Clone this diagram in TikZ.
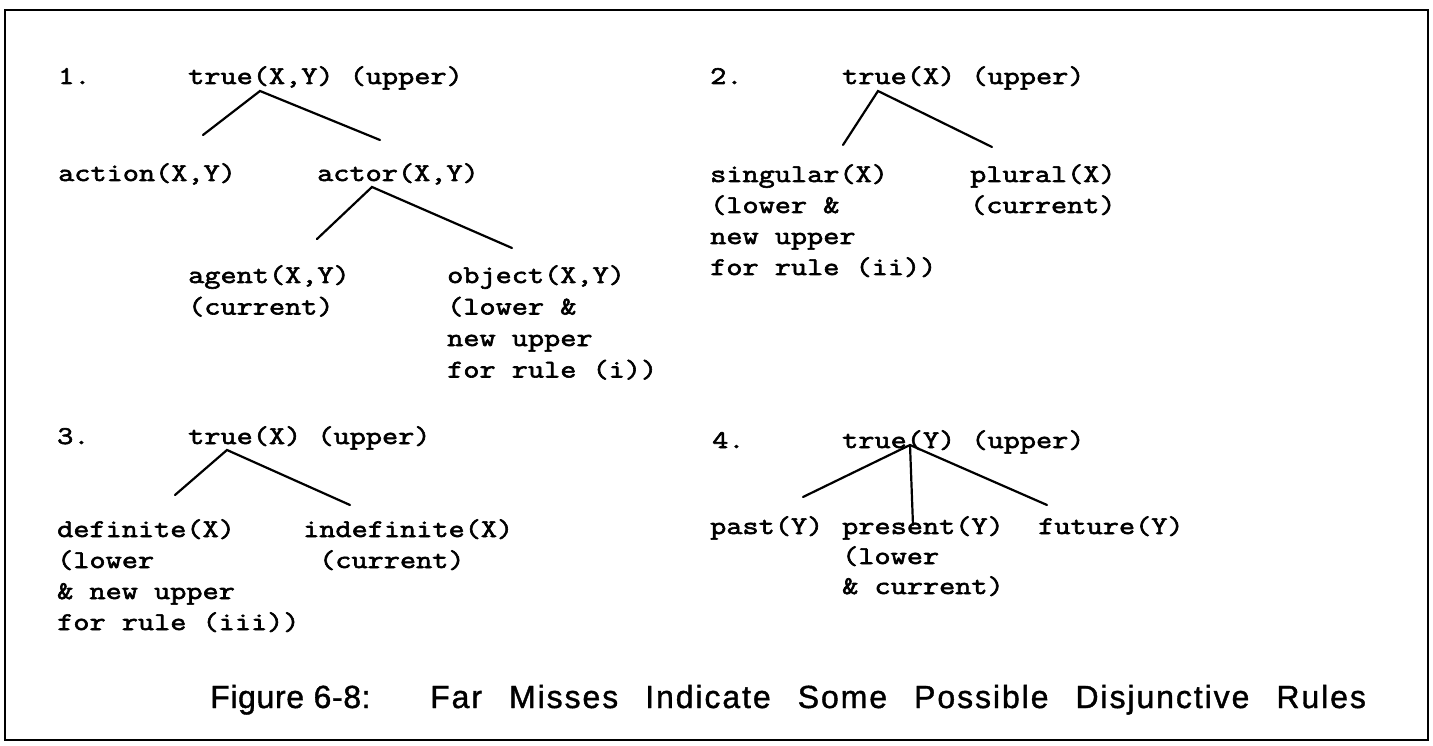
\documentclass[tikz,border=0pt]{standalone}
\usepackage{fontspec}
\newfontfamily\treefont{Latin Modern Mono}[FakeStretch=1.23,FakeBold=2.4]
\newfontfamily\figlabfont{Liberation Sans}[LetterSpace=2,FakeBold=1.2]
\newfontfamily\figtxtfont{Liberation Sans}[LetterSpace=6,WordSpace=2.5,FakeBold=1.2]
\begin{document}
\begin{tikzpicture}[x=1pt,y=-1pt,
  txt/.style={font=\treefont\fontsize{25.5}{32}\selectfont, anchor=base west, inner sep=0pt},
  edge/.style={line width=2.2pt, line cap=round},
  figlab/.style={font=\figlabfont\fontsize{32}{36}\selectfont, anchor=base west, inner sep=0pt},
  figtxt/.style={font=\figtxtfont\fontsize{32}{36}\selectfont, anchor=base west, inner sep=0pt}]
\useasboundingbox (0,0) rectangle (1433,746);
\draw[line width=2.5pt] (5,10) rectangle (1428,740);

% ---------- panel 1 ----------
\node[txt] (n1) at (58,84) {1.};
\node[txt] (t1) at (188,84) {true(X,Y) (upper)};
\node[txt] (action) at (58,181) {action(X,Y)};
\node[txt] (actor) at (317,181) {actor(X,Y)};
\node[txt] (agentA) at (188,283) {agent(X,Y)};
\node[txt] (agentB) at (188,314.5) {(current)};
\node[txt] (objA) at (447,283) {object(X,Y)};
\node[txt] (objB) at (447,314.5) {(lower \&};
\node[txt] (objC) at (447,346) {new upper};
\node[txt] (objD) at (447,377.5) {for rule (i))};
\coordinate (t1p) at (260,91);
\coordinate (actionp) at (203,135);
\coordinate (actorq) at (380,140);
\coordinate (actorp) at (372,187);
\coordinate (agentp) at (317,239);
\coordinate (objp) at (512,248);
\draw[edge] (actionp) -- (t1p) -- (actorq);
\draw[edge] (agentp) -- (actorp) -- (objp);

% ---------- panel 2 ----------
\node[txt] (n2) at (710,84) {2.};
\node[txt] (t2) at (842,84) {true(X) (upper)};
\node[txt] (singA) at (710,182) {singular(X)};
\node[txt] (singB) at (710,213) {(lower \&};
\node[txt] (singC) at (710,244) {new upper};
\node[txt] (singD) at (710,275) {for rule (ii))};
\node[txt] (plurA) at (970,182) {plural(X)};
\node[txt] (plurB) at (970,213) {(current)};
\coordinate (t2p) at (878,91);
\coordinate (singp) at (843,145);
\coordinate (plurp) at (992,147);
\draw[edge] (singp) -- (t2p) -- (plurp);

% ---------- panel 3 ----------
\node[txt] (n3) at (57,444) {3.};
\node[txt] (t3) at (188,444) {true(X) (upper)};
\node[txt] (defA) at (57,537) {definite(X)};
\node[txt] (defB) at (57,568) {(lower};
\node[txt] (defC) at (57,599) {\& new upper};
\node[txt] (defD) at (57,630) {for rule (iii))};
\node[txt] (indA) at (303,537) {indefinite(X)};
\node[txt] (indB) at (319,568) {(current)};
\coordinate (t3p) at (227,450);
\coordinate (defp) at (175,495);
\coordinate (indp) at (350,505);
\draw[edge] (defp) -- (t3p) -- (indp);

% ---------- panel 4 ----------
\node[txt] (n4) at (712,448) {4.};
\node[txt] (t4) at (842,448) {true(Y) (upper)};
\node[txt] (past) at (710,534) {past(Y)};
\node[txt] (presA) at (842,534) {present(Y)};
\node[txt] (presB) at (842,564) {(lower};
\node[txt] (presC) at (842,594) {\& current)};
\node[txt] (fut) at (1038,534) {future(Y)};
\coordinate (t4p) at (910,445);
\coordinate (pastp) at (803,497);
\coordinate (presp) at (913,525);
\coordinate (futp) at (1047,505);
\draw[edge] (pastp) -- (t4p) -- (futp);
\draw[edge] (t4p) -- (presp);

% ---------- caption ----------
\node[figlab] (figlab) at (210,708) {Figure 6-8:};
\node[figtxt] (figtxt) at (430,708) {Far Misses Indicate Some Possible Disjunctive Rules};
\end{tikzpicture}
\end{document}
